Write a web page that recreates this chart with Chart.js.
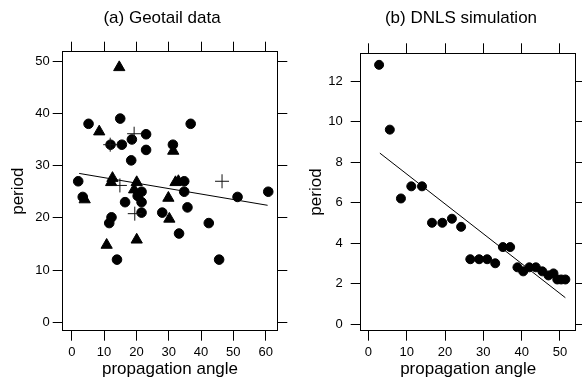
<!DOCTYPE html>
<html>
<head>
<meta charset="utf-8">
<script src="https://cdn.jsdelivr.net/npm/chart.js@4.4.1/dist/chart.umd.min.js"></script>
<style>
  html, body { margin: 0; padding: 0; background: #fff; }
  #wrap { position: relative; width: 582px; height: 383px; }
  canvas { position: absolute; top: 0; }
</style>
</head>
<body>
<div id="wrap">
  <canvas id="geotail" width="291" height="383" style="left:0"></canvas>
  <canvas id="dnls" width="291" height="383" style="left:291px"></canvas>
</div>
<script>
// (a) Geotail data -- three marker groups
var geoCircleX = [2.0, 3.4, 5.2, 11.6, 12.3, 12.0, 14.0, 15.0, 15.5, 16.5, 18.4, 18.6, 20.4, 21.6, 21.6, 21.6, 23.0, 23.0, 28.0, 31.3, 33.2, 34.8, 34.8, 35.8, 36.8, 42.4, 45.6, 51.3, 60.8];
var geoCircleY = [27.0, 24.0, 38.0, 19.0, 20.1, 34.0, 12.0, 39.0, 34.0, 23.0, 31.0, 35.0, 24.2, 25.0, 23.0, 21.0, 36.0, 33.0, 21.0, 34.0, 17.0, 27.0, 25.0, 22.0, 38.0, 19.0, 12.0, 24.0, 25.0];
var geoTriX = [4.0, 8.5, 10.8, 12.6, 12.2, 14.7, 19.3, 20.1, 20.1, 29.9, 30.2, 31.4, 32.1, 33.0];
var geoTriY = [23.5, 36.5, 14.8, 27.6, 26.8, 48.8, 25.4, 26.8, 15.8, 23.8, 19.8, 32.8, 26.8, 27.0];
var geoPlusX = [11.9, 19.3, 14.9, 19.5, 46.5];
var geoPlusY = [34.0, 36.1, 26.2, 20.8, 27.0];
var geoFitX = [2.3, 60.6];
var geoFitY = [28.5, 22.4];
var geoXTicks = [0, 10, 20, 30, 40, 50, 60];
var geoYTicks = [0, 10, 20, 30, 40, 50];

// (b) DNLS simulation
var dnlsX = [2.8, 5.6, 8.5, 11.2, 14.0, 16.6, 19.3, 21.8, 24.2, 26.6, 28.9, 31.0, 33.1, 35.1, 37.0, 38.9, 40.4, 42.0, 43.7, 45.4, 47.0, 48.3, 49.3, 50.3, 51.4];
var dnlsY = [12.8, 9.6, 6.2, 6.8, 6.8, 5.0, 5.0, 5.2, 4.8, 3.2, 3.2, 3.2, 3.0, 3.8, 3.8, 2.8, 2.6, 2.8, 2.8, 2.6, 2.4, 2.5, 2.2, 2.2, 2.2];
var dnlsFitX = [3.0, 51.4];
var dnlsFitY = [8.44, 1.3];
var dnlsXTicks = [0, 10, 20, 30, 40, 50];
var dnlsYTicks = [0, 2, 4, 6, 8, 10, 12];

var FONT = '"Liberation Sans", Arial, Helvetica, sans-serif';

function pts(xs, ys) {
  return xs.map(function (x, i) { return {x: x, y: ys[i]}; });
}

var panelTitle = {
  id: 'panelTitle',
  afterDraw: function (chart, args, opts) {
    var ctx = chart.ctx;
    ctx.save();
    ctx.font = '17px ' + FONT;
    ctx.fillStyle = '#000';
    ctx.textAlign = 'center';
    ctx.textBaseline = 'middle';
    ctx.fillText(opts.text, opts.x, opts.y);
    ctx.restore();
  }
};

function axis(pos, min, max, tickVals, size, extra) {
  var a = {
    type: 'linear',
    position: pos,
    min: min,
    max: max,
    afterBuildTicks: function (s) { s.ticks = tickVals.map(function (v) { return {value: v}; }); },
    grid: { drawOnChartArea: false, drawTicks: true, tickLength: 10, color: '#000', lineWidth: 1 },
    border: { display: true, color: '#000', width: 1 },
    ticks: { display: false },
    afterFit: function (s) {
      if (pos == 'top' || pos == 'bottom') s.height = size; else s.width = size;
    }
  };
  return Object.assign(a, extra || {});
}

function makePanel(id, cfg) {
  new Chart(document.getElementById(id), {
    type: 'scatter',
    data: { datasets: cfg.datasets },
    options: {
      responsive: false,
      animation: false,
      layout: { padding: { top: cfg.top, left: 0, right: 0, bottom: 0 } },
      plugins: {
        legend: { display: false },
        tooltip: { enabled: false },
        panelTitle: cfg.title
      },
      scales: {
        x: axis('bottom', cfg.xMin, cfg.xMax, cfg.xTicks, 52.3, {
          ticks: { display: true, padding: 4, color: '#000', maxRotation: 0, autoSkip: false, font: { family: FONT, size: 13 } },
          title: { display: true, text: 'propagation angle', color: '#000', font: { family: FONT, size: 17 }, padding: { top: 0, bottom: 3 } }
        }),
        x2: axis('top', cfg.xMin, cfg.xMax, cfg.xTicks, 10),
        y: axis('left', cfg.yMin, cfg.yMax, cfg.yTicks, cfg.leftW, {
          ticks: { display: true, padding: cfg.yPad, color: '#000', autoSkip: false, font: { family: FONT, size: 13 } },
          title: { display: true, text: 'period', color: '#000', font: { family: FONT, size: 17 }, padding: { top: cfg.yTitlePad, bottom: 0 } }
        }),
        y2: axis('right', cfg.yMin, cfg.yMax, cfg.yTicks, cfg.rightW)
      }
    },
    plugins: [panelTitle]
  });
}

makePanel('geotail', {
  top: 41.7, leftW: 62.7, rightW: 13.7, yPad: 3, yTitlePad: 8,
  xMin: -2.8, xMax: 63.6, yMin: -1.6, yMax: 51.8,
  xTicks: geoXTicks, yTicks: geoYTicks,
  title: { text: '(a) Geotail data', x: 162, y: 18 },
  datasets: [
    { data: pts(geoPlusX, geoPlusY), pointStyle: 'cross', pointRadius: 7, borderColor: '#111', borderWidth: 1 },
    { data: pts(geoCircleX, geoCircleY), pointStyle: 'circle', pointRadius: 4.8, backgroundColor: '#000', borderColor: '#000', borderWidth: 1 },
    { data: pts(geoTriX, geoTriY), pointStyle: 'triangle', pointRadius: 6.5, backgroundColor: '#000', borderColor: '#000', borderWidth: 1 },
    { data: pts(geoFitX, geoFitY), showLine: true, pointRadius: 0, borderColor: '#000', borderWidth: 1 }
  ]
});

makePanel('dnls', {
  top: 43.3, leftW: 69.7, rightW: 6.3, yPad: 8, yTitlePad: 15.5,
  xMin: -2.0, xMax: 54.1, yMin: -0.33, yMax: 13.37,
  xTicks: dnlsXTicks, yTicks: dnlsYTicks,
  title: { text: '(b) DNLS simulation', x: 170, y: 18 },
  datasets: [
    { data: pts(dnlsX, dnlsY), pointStyle: 'circle', pointRadius: 4.5, backgroundColor: '#000', borderColor: '#000', borderWidth: 1 },
    { data: pts(dnlsFitX, dnlsFitY), showLine: true, pointRadius: 0, borderColor: '#000', borderWidth: 1 }
  ]
});
</script>
</body>
</html>
